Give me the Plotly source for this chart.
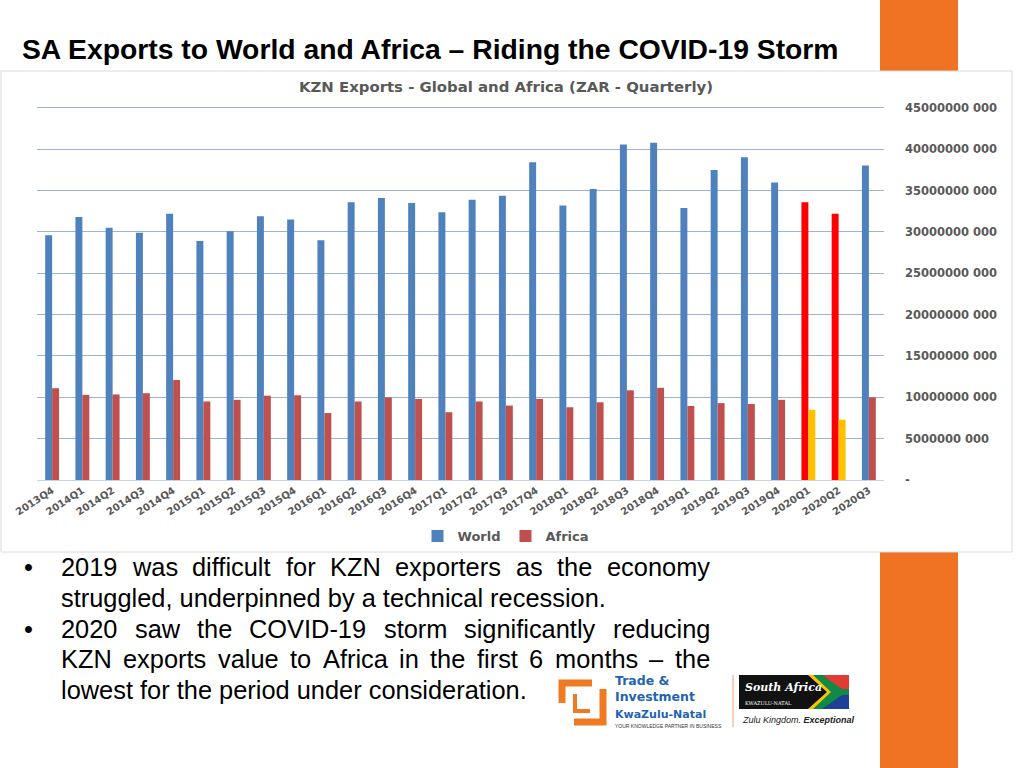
import plotly.graph_objects as go

W, H = 1024, 768

# ---------------- data ----------------
quarters = ["2013Q4",
            "2014Q1", "2014Q2", "2014Q3", "2014Q4",
            "2015Q1", "2015Q2", "2015Q3", "2015Q4",
            "2016Q1", "2016Q2", "2016Q3", "2016Q4",
            "2017Q1", "2017Q2", "2017Q3", "2017Q4",
            "2018Q1", "2018Q2", "2018Q3", "2018Q4",
            "2019Q1", "2019Q2", "2019Q3", "2019Q4",
            "2020Q1", "2020Q2", "2020Q3"]

world_zar = [29.6e9,
             31.8e9, 30.5e9, 29.9e9, 32.2e9,
             28.9e9, 30.1e9, 31.9e9, 31.5e9,
             29.0e9, 33.6e9, 34.1e9, 33.5e9,
             32.4e9, 33.9e9, 34.4e9, 38.45e9,
             33.2e9, 35.2e9, 40.6e9, 40.8e9,
             32.9e9, 37.5e9, 39.05e9, 36.0e9,
             33.6e9, 32.2e9, 38.05e9]

africa_zar = [11.1e9,
              10.3e9, 10.35e9, 10.5e9, 12.1e9,
              9.5e9, 9.7e9, 10.2e9, 10.25e9,
              8.1e9, 9.5e9, 10.0e9, 9.8e9,
              8.2e9, 9.5e9, 9.0e9, 9.8e9,
              8.8e9, 9.4e9, 10.85e9, 11.15e9,
              8.95e9, 9.3e9, 9.2e9, 9.7e9,
              8.5e9, 7.3e9, 10.0e9]

covid_quarters = ["2020Q1", "2020Q2"]

y_tick_values = [0, 5e9, 10e9, 15e9, 20e9, 25e9, 30e9, 35e9, 40e9, 45e9]
y_tick_labels = ["-", "5000000 000", "10000000 000", "15000000 000",
                 "20000000 000", "25000000 000", "30000000 000",
                 "35000000 000", "40000000 000", "45000000 000"]

slide_title = "SA Exports to World and Africa \u2013 Riding the COVID-19 Storm"
chart_title = "KZN Exports - Global and Africa (ZAR - Quarterly)"

bullet_1 = ["2019 was difficult for KZN exporters as the economy",
            "struggled, underpinned by a technical recession."]
bullet_2 = ["2020 saw the COVID-19 storm significantly reducing",
            "KZN exports value to Africa in the first 6 months \u2013 the",
            "lowest for the period under consideration."]

# ---------------- helpers ----------------
def px(x):
    return x / W


def py(y):
    return 1 - y / H


BLUE = "#4F81BD"
RED = "#C0504D"
HL_WORLD = "#FF0000"
HL_AFRICA = "#FFC000"
GREY_TXT = "#595959"
ORANGE = "#F07323"

world_colors = [HL_WORLD if q in covid_quarters else BLUE for q in quarters]
africa_colors = [HL_AFRICA if q in covid_quarters else RED for q in quarters]

fig = go.Figure()
fig.add_bar(x=quarters, y=world_zar, name="World",
            marker=dict(color=world_colors, line=dict(width=0)))
fig.add_bar(x=quarters, y=africa_zar, name="Africa",
            marker=dict(color=africa_colors, line=dict(width=0)))

CHART_FONT = "DejaVu Sans, Verdana, sans-serif"
Y_TOP = 45.5e9  # a little above the top tick so its gridline is drawn

fig.update_layout(
    width=W, height=H, autosize=False,
    margin=dict(l=0, r=0, t=0, b=0, pad=0, autoexpand=False),
    paper_bgcolor="white", plot_bgcolor="rgba(0,0,0,0)",
    barmode="group", bargap=0.54, bargroupgap=0.0,
    hovermode=False,
    font=dict(family=CHART_FONT, color=GREY_TXT),
    showlegend=True,
    legend=dict(orientation="h", x=px(506), xanchor="center",
                y=py(536), yanchor="middle",
                font=dict(size=13, color=GREY_TXT, weight="bold",
                          family=CHART_FONT),
                bgcolor="rgba(0,0,0,0)", itemwidth=30),
    xaxis=dict(domain=[px(37), px(884)], type="category", automargin=False,
               tickangle=-33, showgrid=False, ticks="",
               showline=True, linecolor="#C8D3E2", linewidth=1,
               tickfont=dict(size=10, color=GREY_TXT, weight="bold"),
               fixedrange=True),
    yaxis=dict(domain=[py(480), py(480 - 372 * Y_TOP / 45e9)],
               range=[0, Y_TOP], automargin=False,
               side="right", tickmode="array",
               tickvals=y_tick_values, ticktext=y_tick_labels,
               showgrid=True, gridcolor="#9DB5D3", gridwidth=1,
               zeroline=False, ticks="", ticklabelstandoff=20,
               tickfont=dict(size=11.5, color=GREY_TXT, weight="bold"),
               fixedrange=True),
)

# ---------------- slide decorations ----------------
shapes = []
shapes.append(dict(type="rect", xref="paper", yref="paper", layer="below",
                   x0=px(880), x1=px(958), y0=0, y1=1,
                   fillcolor=ORANGE, line=dict(width=0)))
shapes.append(dict(type="rect", xref="paper", yref="paper", layer="below",
                   x0=px(1), x1=px(1012), y0=py(552), y1=py(71),
                   fillcolor="white", line=dict(color="#D9D9D9", width=1)))

annotations = []
annotations.append(dict(x=px(20), y=py(49), xref="paper", yref="paper",
                        text="<b>" + slide_title + "</b>", showarrow=False,
                        xanchor="left", yanchor="middle",
                        font=dict(family="Liberation Sans, Arial, sans-serif",
                                  size=28.3, color="#000000")))
annotations.append(dict(x=px(506), y=py(87), xref="paper", yref="paper",
                        text="<b>" + chart_title + "</b>", showarrow=False,
                        xanchor="center", yanchor="middle",
                        font=dict(family=CHART_FONT, size=14.9, color=GREY_TXT)))

# ---------------- bullet text (justified) ----------------
ARIAL_W = {" ": 278, ",": 278, ".": 278, "-": 333, "\u2013": 556,
           "0": 556, "1": 556, "2": 556, "3": 556, "4": 556, "5": 556,
           "6": 556, "7": 556, "8": 556, "9": 556,
           "a": 556, "b": 556, "c": 500, "d": 556, "e": 556, "f": 278,
           "g": 556, "h": 556, "i": 222, "j": 222, "k": 500, "l": 222,
           "m": 833, "n": 556, "o": 556, "p": 556, "q": 556, "r": 333,
           "s": 500, "t": 278, "u": 556, "v": 500, "w": 722, "x": 500,
           "y": 500, "z": 500,
           "A": 667, "C": 722, "D": 722, "I": 278, "K": 667, "N": 722,
           "O": 778, "V": 667, "Z": 611}

BODY_FONT = dict(family="Liberation Sans, Arial, sans-serif", size=25.4,
                 color="#000000")
TEXT_X0, TEXT_X1 = 61, 710
LINE_Y0, LINE_DY = 567, 30.8


def text_w(s, size):
    return sum(ARIAL_W.get(c, 556) for c in s) * size / 1000.0


def add_line(line, yc, justify):
    size = BODY_FONT["size"]
    if not justify:
        annotations.append(dict(x=px(TEXT_X0 - 2), y=py(yc), xref="paper",
                                yref="paper", text=line, showarrow=False,
                                xanchor="left", yanchor="middle",
                                font=BODY_FONT))
        return
    words = line.split(" ")
    widths = [text_w(w, size) for w in words]
    gap = (TEXT_X1 - TEXT_X0 - sum(widths)) / (len(words) - 1)
    x = TEXT_X0
    for w, wd in zip(words, widths):
        annotations.append(dict(x=px(x - 2), y=py(yc), xref="paper",
                                yref="paper", text=w, showarrow=False,
                                xanchor="left", yanchor="middle",
                                font=BODY_FONT))
        x += wd + gap


line_idx = 0
for para in (bullet_1, bullet_2):
    annotations.append(dict(x=px(28), y=py(LINE_Y0 + line_idx * LINE_DY),
                            xref="paper", yref="paper", text="\u2022",
                            showarrow=False, xanchor="center", yanchor="middle",
                            font=BODY_FONT))
    for i, line in enumerate(para):
        add_line(line, LINE_Y0 + line_idx * LINE_DY, justify=(i < len(para) - 1))
        line_idx += 1

# ---------------- logos (approximation) ----------------
LOGO_BLUE = "#1F64AE"


def path_from(points):
    return "M " + " L ".join(f"{px(a):.5f},{py(b):.5f}" for a, b in points)


shapes.append(dict(type="path", xref="paper", yref="paper",
                   path=path_from([(562, 703), (562, 683), (592, 683)]),
                   line=dict(color="#F07A22", width=7)))
shapes.append(dict(type="path", xref="paper", yref="paper",
                   path=path_from([(603, 689), (603, 722), (574, 722)]),
                   line=dict(color="#F07A22", width=7)))
shapes.append(dict(type="path", xref="paper", yref="paper",
                   path=path_from([(575, 694), (575, 711), (590, 711)]),
                   line=dict(color="#F07A22", width=4)))

logo_notes = [
    dict(x=px(614), y=py(697),
         text="<b>Trade &amp;<br>Investment<br>"
              "<span style='font-size:11px'>KwaZulu-Natal</span></b>",
         align="left",
         font=dict(family="DejaVu Sans, sans-serif", size=12.5, color=LOGO_BLUE)),
    dict(x=px(614), y=py(726), text="YOUR KNOWLEDGE PARTNER IN BUSINESS",
         font=dict(family="Liberation Sans Narrow, Liberation Sans, sans-serif",
                   size=5, color="#333333")),
    dict(x=px(744), y=py(693),
         text="<b><i>South Africa</i></b><br>"
              "<span style='font-size:5px'>KWAZULU-NATAL</span>",
         align="left",
         font=dict(family="DejaVu Serif, serif", size=11, color="white")),
    dict(x=px(741), y=py(720), text="<i>Zulu Kingdom. <b>Exceptional</b></i>",
         font=dict(family="Liberation Sans, sans-serif", size=9, color="#222222")),
]
for a in logo_notes:
    a.update(xref="paper", yref="paper", showarrow=False,
             xanchor="left", yanchor="middle", borderpad=0)
annotations += logo_notes

shapes.append(dict(type="line", xref="paper", yref="paper",
                   x0=px(733), x1=px(733), y0=py(727), y1=py(675),
                   line=dict(color="#F0A070", width=1)))
shapes.append(dict(type="rect", xref="paper", yref="paper",
                   x0=px(739), x1=px(849), y0=py(709), y1=py(675),
                   fillcolor="#111111", line=dict(width=0)))
shapes.append(dict(type="path", xref="paper", yref="paper",
                   path=path_from([(822, 675), (849, 675), (849, 689), (840, 689)]) + " Z",
                   fillcolor="#E03C31", line=dict(width=0)))
shapes.append(dict(type="path", xref="paper", yref="paper",
                   path=path_from([(840, 695), (849, 695), (849, 709), (822, 709)]) + " Z",
                   fillcolor="#1F3F99", line=dict(width=0)))
shapes.append(dict(type="path", xref="paper", yref="paper",
                   path=path_from([(808, 675), (820, 675), (839, 692),
                                   (820, 709), (808, 709), (827, 692)]) + " Z",
                   fillcolor="#F7C600", line=dict(width=0)))
shapes.append(dict(type="path", xref="paper", yref="paper",
                   path=path_from([(813, 675), (822, 675), (842, 689), (849, 689),
                                   (849, 695), (842, 695), (822, 709), (813, 709),
                                   (831, 692)]) + " Z",
                   fillcolor="#118A47", line=dict(width=0)))

fig.update_layout(shapes=shapes, annotations=annotations)
fig.write_html("out.html",
               config={"displayModeBar": False, "staticPlot": True},
               post_script="document.body.style.margin='0';"
                           "document.body.style.overflow='hidden';")
